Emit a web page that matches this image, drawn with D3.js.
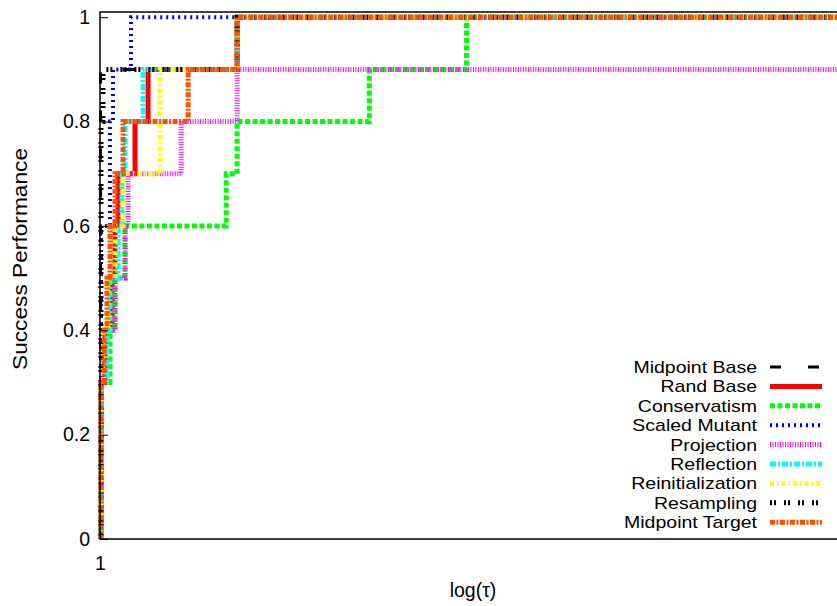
<!DOCTYPE html>
<html>
<head>
<meta charset="utf-8">
<script src="https://cdn.jsdelivr.net/npm/d3@7"></script>
<style>
  body { margin: 0; background: #fff; }
  text { font-family: "Liberation Sans", Arial, Helvetica, sans-serif; }
</style>
</head>
<body>
<div id="container"></div>
<script>
// performance profile: tau (log scale) vs fraction of problems solved
var seriesNames = ["Midpoint Base", "Rand Base", "Conservatism", "Scaled Mutant", "Projection",
                   "Reflection", "Reinitialization", "Resampling", "Midpoint Target"];

var midpointBaseTau = [1, 1.005, 3.56];
var midpointBaseRho = [0, 0.9, 1.0];
var randBaseTau = [1, 1.009, 1.047, 1.118, 1.149, 1.182, 1.383, 1.561, 3.56];
var randBaseRho = [0, 0.3, 0.4, 0.5, 0.6, 0.7, 0.8, 0.9, 1.0];
var conservatismTau = [1, 1.009, 1.097, 1.149, 1.261, 3.217, 3.56, 12.11, 29.78];
var conservatismRho = [0, 0.3, 0.4, 0.5, 0.6, 0.7, 0.8, 0.9, 1.0];
var scaledMutantTau = [1, 1.009, 1.097, 1.128, 1.333];
var scaledMutantRho = [0, 0.6, 0.8, 0.9, 1.0];
var projectionTau = [1, 1.009, 1.047, 1.149, 1.261, 1.296, 2.12, 3.56];
var projectionRho = [0, 0.3, 0.4, 0.5, 0.6, 0.7, 0.8, 0.9];
var reflectionTau = [1, 1.009, 1.067, 1.097, 1.182, 1.226, 1.261, 1.49, 3.56];
var reflectionRho = [0, 0.3, 0.4, 0.5, 0.6, 0.7, 0.8, 0.9, 1.0];
var reinitTau = [1, 1.009, 1.028, 1.077, 1.149, 1.238, 1.744, 3.56];
var reinitRho = [0, 0.3, 0.4, 0.5, 0.6, 0.7, 0.9, 1.0];
var resamplingTau = [1, 1.009, 1.028, 3.56];
var resamplingRho = [0, 0.8, 0.9, 1.0];
var midpointTargetTau = [1, 1.009, 1.038, 1.067, 1.097, 1.149, 1.238, 2.262, 3.56];
var midpointTargetRho = [0, 0.3, 0.4, 0.5, 0.6, 0.7, 0.8, 0.9, 1.0];

var yTicks = [0, 0.2, 0.4, 0.6, 0.8, 1];
var xTicks = [1];

(function() {
  var taus = [midpointBaseTau, randBaseTau, conservatismTau, scaledMutantTau, projectionTau,
              reflectionTau, reinitTau, resamplingTau, midpointTargetTau];
  var rhos = [midpointBaseRho, randBaseRho, conservatismRho, scaledMutantRho, projectionRho,
              reflectionRho, reinitRho, resamplingRho, midpointTargetRho];

  var styles = [
    { color: "#000000", width: 3, dash: "11,27" },
    { color: "#ff0000", width: 5, dash: null },
    { color: "#00ff00", width: 5, dash: "5,2.5" },
    { color: "#0000ff", width: 4, dash: "2,4" },
    { color: "#ff00ff", width: 5, dash: "1,1.5" },
    { color: "#00ffff", width: 5, dash: "6,2,2,2" },
    { color: "#ffff00", width: 5, dash: "4,3,1.5,3" },
    { color: "#000000", width: 5, dash: "2,2,2,8" },
    { color: "#ff4f00", width: 5, dash: "5,1.5,2,1.5" }
  ];

  var W = 837, H = 606;
  var pl = 100, pr = 846, pt = 12, pb = 539;
  var xMax = 1000;
  var fs = 19.5;

  var svg = d3.select("#container").append("svg")
    .attr("width", W).attr("height", H);

  var x = d3.scaleLog().domain([1, xMax]).range([pl, pr]);
  var y = d3.scaleLinear().domain([0, 1.01]).range([pb, pt]);

  svg.append("clipPath").attr("id", "clip")
    .append("rect").attr("x", pl - 4).attr("y", pt - 6).attr("width", pr - pl + 4).attr("height", pb - pt + 6);

  var line = d3.line()
    .x(function(d) { return x(d[0]); })
    .y(function(d) { return y(d[1]); })
    .curve(d3.curveStepAfter);

  var plot = svg.append("g").attr("clip-path", "url(#clip)");

  seriesNames.forEach(function(name, i) {
    var pts = taus[i].map(function(t, j) { return [t, rhos[i][j]]; });
    pts.push([xMax, rhos[i][rhos[i].length - 1]]);
    plot.append("path")
      .datum(pts)
      .attr("fill", "none")
      .attr("stroke", styles[i].color)
      .attr("stroke-width", styles[i].width)
      .attr("stroke-dasharray", styles[i].dash)
      .attr("d", line);
  });

  // frame
  svg.append("path")
    .attr("d", "M" + (W + 5) + "," + pt + "H" + pl + "V" + pb + "H" + (W + 5))
    .attr("fill", "none").attr("stroke", "#000").attr("stroke-width", 1.5);

  // y axis ticks and labels
  var yAxis = d3.axisLeft(y).tickValues(yTicks).tickSize(-8).tickPadding(10)
    .tickFormat(function(d) { return d; });
  var gy = svg.append("g").attr("transform", "translate(" + pl + ",0)").call(yAxis);
  gy.select(".domain").remove();
  gy.selectAll("line").attr("stroke", "#000").attr("stroke-width", 1);
  gy.selectAll("text").attr("font-size", fs).attr("fill", "#000")
    .attr("font-family", "Liberation Sans, Arial, sans-serif");

  var xAxis = d3.axisBottom(x).tickValues(xTicks).tickSize(-8).tickPadding(17)
    .tickFormat(function(d) { return d; });
  var gx = svg.append("g").attr("transform", "translate(0," + pb + ")").call(xAxis);
  gx.select(".domain").remove();
  gx.selectAll("line").attr("stroke", "#000");
  gx.selectAll("text").attr("font-size", fs).attr("fill", "#000")
    .attr("font-family", "Liberation Sans, Arial, sans-serif");

  // axis titles
  svg.append("text")
    .attr("transform", "translate(27,259) rotate(-90)")
    .attr("text-anchor", "middle").attr("font-size", fs)
    .attr("textLength", 222).attr("lengthAdjust", "spacingAndGlyphs")
    .text("Success Performance");

  svg.append("text")
    .attr("x", (pl + pr) / 2).attr("y", 597)
    .attr("text-anchor", "middle").attr("font-size", fs)
    .text("log(\u03c4)");

  // key: text is a bit wide in the original, so squeeze height, keep width
  var key = svg.append("g");
  seriesNames.forEach(function(name, i) {
    var ky = 367 + i * 19.4;
    var t = key.append("text")
      .attr("x", 757).attr("y", ky + 6)
      .attr("text-anchor", "end").attr("font-size", fs)
      .text(name);
    var wide = t.node().getComputedTextLength();
    t.attr("font-size", 17)
      .attr("textLength", wide).attr("lengthAdjust", "spacingAndGlyphs");
    key.append("line")
      .attr("x1", 770).attr("x2", 822).attr("y1", ky).attr("y2", ky)
      .attr("stroke", styles[i].color)
      .attr("stroke-width", styles[i].width)
      .attr("stroke-dasharray", styles[i].dash);
  });
})();
</script>
</body>
</html>
